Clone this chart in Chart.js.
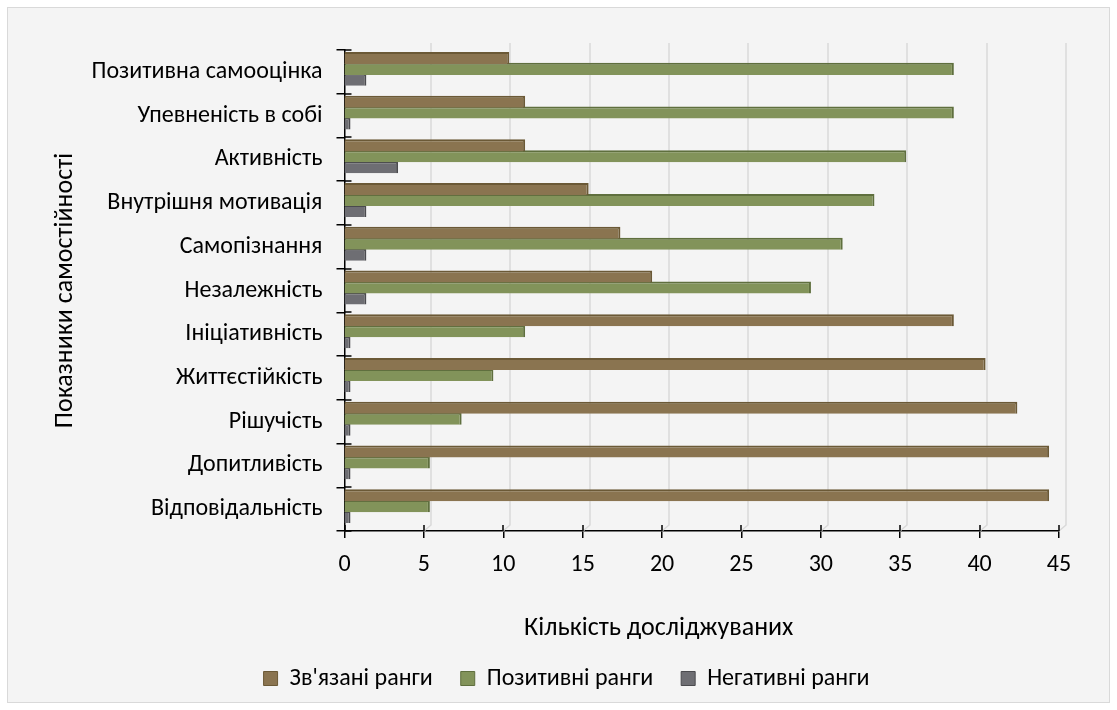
<!DOCTYPE html>
<html><head><meta charset="utf-8">
<script src="https://cdn.jsdelivr.net/npm/chart.js@4.4.0/dist/chart.umd.min.js"></script>
<style>html,body{margin:0;padding:0;background:#fff;}</style>
</head><body>
<canvas id="c" width="1117" height="710"></canvas>
<script>
const categories = ['Позитивна самооцінка','Упевненість в собі','Активність','Внутрішня мотивація','Самопізнання','Незалежність','Ініціативність','Життєстійкість','Рішучість','Допитливість','Відповідальність'];
const tiedRanks     = [10, 11, 11, 15, 17, 19, 38, 40, 42, 44, 44];
const positiveRanks = [38, 38, 35, 33, 31, 29, 11,  9,  7,  5,  5];
const negativeRanks = [ 1,  0,  3,  1,  1,  1,  0,  0,  0,  0,  0];
const seriesNames = ["Зв'язані ранги", 'Позитивні ранги', 'Негативні ранги'];
const xTickValues = [0, 5, 10, 15, 20, 25, 30, 35, 40, 45];
const yTitle = 'Показники самостійності';
const xTitle = 'Кількість досліджуваних';

const FONT = "Carlito, Lato, 'Open Sans', sans-serif";
const DX = 6, DY = -3;            // 3D depth shift of bars
const GX = 7, GY = -7;            // 3D depth shift of wall gridlines

const depthPlugin = {
  id: 'depth',
  beforeDraw(chart) {
    const ctx = chart.ctx;
    ctx.save();
    ctx.fillStyle = '#ffffff';
    ctx.fillRect(0, 0, chart.width, chart.height);
    ctx.fillStyle = '#f4f4f4';
    ctx.fillRect(7.5, 7.5, chart.width - 15, chart.height - 15);
    ctx.strokeStyle = '#d9d9d9';
    ctx.lineWidth = 1;
    ctx.strokeRect(7.5, 7.5, chart.width - 15, chart.height - 15);
    ctx.restore();
    const xs = chart.scales.x;
    if (xs && !xs._patched) {
      const orig = xs.drawTitle;
      xs.drawTitle = function () { const c = this.ctx; c.save(); c.translate(-43, 1.5); orig.apply(this, arguments); c.restore(); };
      xs._patched = true;
    }
    const lg = chart.legend;
    if (lg && !lg._patched) {
      const origL = lg.draw;
      lg.draw = function () { const c = this.ctx; c.save(); c.translate(12, -4.5); origL.apply(this, arguments); c.restore(); };
      lg._patched = true;
    }
  },
  beforeDatasetsDraw(chart) {
    const ctx = chart.ctx, xs = chart.scales.x, ys = chart.scales.y, ca = chart.chartArea;
    ctx.save();
    ctx.strokeStyle = '#d9d9d9';
    ctx.lineWidth = 1.5;
    xs.ticks.forEach(t => {
      if (t.value === 0) return;
      const x = Math.round(xs.getPixelForValue(t.value));
      ctx.beginPath();
      ctx.moveTo(x + GX, ca.top + GY);
      ctx.lineTo(x + GX, ca.bottom - 6);
      ctx.lineTo(x, ca.bottom);
      ctx.stroke();
    });
    ctx.strokeStyle = '#000';
    ctx.lineWidth = 1.5;
    xs.ticks.forEach(t => {
      const x = Math.round(xs.getPixelForValue(t.value));
      ctx.beginPath(); ctx.moveTo(x, ca.bottom); ctx.lineTo(x, ca.bottom - 6); ctx.stroke();
    });
    const n = categories.length;
    for (let i = 0; i <= n; i++) {
      const y = Math.round(ys.top + i * (ys.bottom - ys.top) / n);
      ctx.beginPath(); ctx.moveTo(ca.left, y); ctx.lineTo(ca.left + 7, y); ctx.stroke();
    }
    ctx.restore();
    ctx.save();
    ctx.translate(DX, DY);
  },
  afterDatasetsDraw(chart) {
    chart.ctx.restore();
  }
};

const common = {
  categoryPercentage: 0.75,
  barPercentage: 1.1,
  borderWidth: { top: 2, right: 2, bottom: 0, left: 0 },
  borderSkipped: false,
  base: -0.38,
  clip: false
};

new Chart(document.getElementById('c'), {
  type: 'bar',
  data: {
    labels: categories,
    datasets: [
      Object.assign({ label: seriesNames[0], data: tiedRanks, backgroundColor: '#8a7450', borderColor: '#6b5936' }, common),
      Object.assign({ label: seriesNames[1], data: positiveRanks, backgroundColor: '#82935a', borderColor: '#5f6f3e' }, common),
      Object.assign({ label: seriesNames[2], data: negativeRanks, backgroundColor: '#6e6e73', borderColor: '#4a4a4e' }, common)
    ]
  },
  options: {
    indexAxis: 'y',
    responsive: false,
    animation: false,
    devicePixelRatio: 1,
    layout: { padding: { left: 50, right: 58, top: 50, bottom: 5 } },
    plugins: {
      tooltip: { enabled: false },
      legend: {
        position: 'bottom',
        labels: {
          font: { family: FONT, size: 24 },
          color: '#000',
          boxWidth: 14, boxHeight: 14,
          padding: 28
        }
      }
    },
    scales: {
      x: {
        type: 'linear',
        min: 0, max: 45,
        afterBuildTicks(s) { s.ticks = xTickValues.map(v => ({ value: v })); },
        afterFit(s) { s.height = 112; },
        ticks: { font: { family: FONT, size: 24 }, color: '#000', padding: 13 },
        grid: { display: true, drawOnChartArea: false, tickLength: 7, color: '#000', lineWidth: 1.5 },
        border: { display: true, color: '#000', width: 1.5 },
        title: { display: true, text: xTitle, font: { family: FONT, size: 26 }, color: '#000', padding: { top: 0, bottom: 0 } }
      },
      y: {
        type: 'category',
        afterFit(s) { s.width = 294.5; },
        ticks: { font: { family: FONT, size: 24 }, color: '#000', padding: 14 },
        grid: { display: true, drawOnChartArea: false, tickLength: 8, color: '#000', lineWidth: 1.5, offset: true },
        border: { display: true, color: '#000', width: 1.5 },
        title: { display: true, text: yTitle, font: { family: FONT, size: 26 }, color: '#000', padding: { top: 0, bottom: 0 } }
      }
    }
  },
  plugins: [depthPlugin]
});
</script>
</body></html>
